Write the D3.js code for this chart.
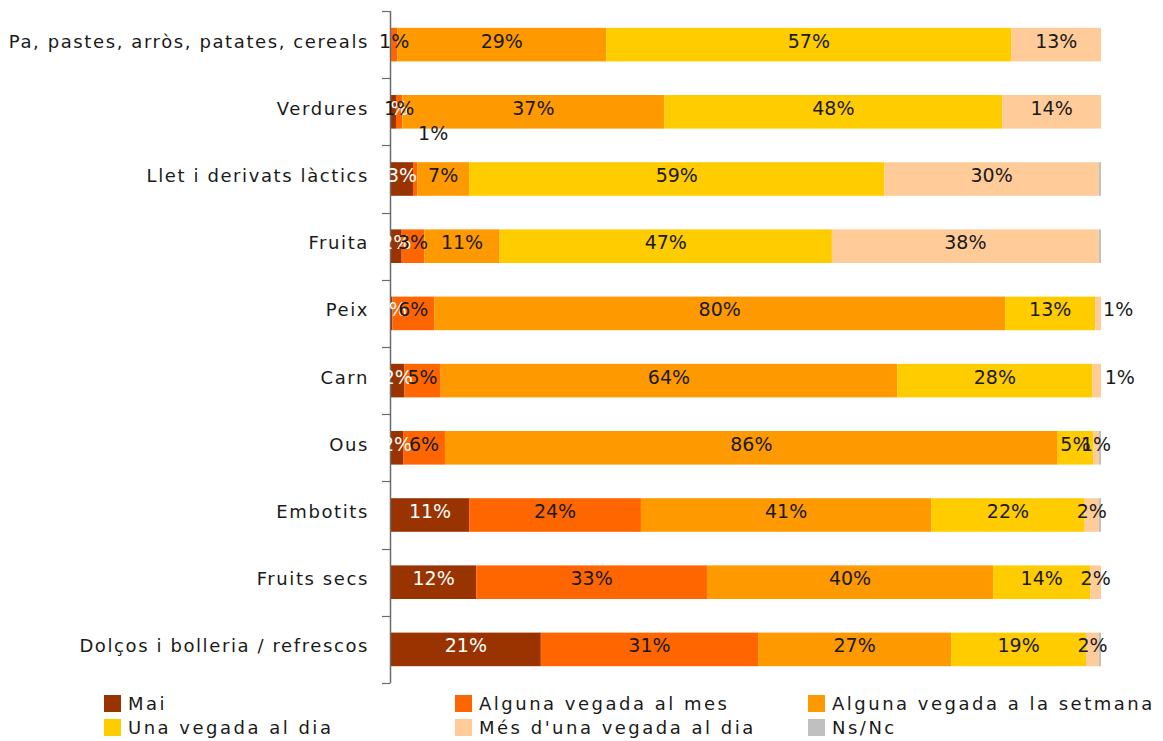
<!DOCTYPE html>
<html>
<head>
<meta charset="utf-8">
<script src="https://cdn.jsdelivr.net/npm/d3@7/dist/d3.min.js"></script>
<style>
  html, body { margin: 0; padding: 0; background: #ffffff; }
  svg { display: block; }
  text { font-family: "DejaVu Sans", sans-serif; fill: #1a1a1a; }
</style>
</head>
<body>
<svg id="chart" width="1163" height="741"></svg>
<script>
// Food categories (top to bottom)
const categories = [
  "Pa, pastes, arròs, patates, cereals",
  "Verdures",
  "Llet i derivats làctics",
  "Fruita",
  "Peix",
  "Carn",
  "Ous",
  "Embotits",
  "Fruits secs",
  "Dolços i bolleria  / refrescos"
];

// Consumption frequency series (legend order)
const seriesNames = [
  "Mai",
  "Alguna vegada al mes",
  "Alguna vegada a la setmana",
  "Una vegada al dia",
  "Més d'una vegada al dia",
  "Ns/Nc"
];

// Percentages per category for each frequency
const mai      = [0,    0.7,  3.1,  1.5,  0.2,  1.9,  1.7, 11.0, 12.0, 21.1];
const alMes    = [0.9,  0.9,  0.6,  3.2,  5.9,  5.1,  5.9, 24.2, 32.5, 30.6];
const setmana  = [29.4, 36.9, 7.3, 10.6, 80.4, 64.3, 86.3, 40.9, 40.3, 27.2];
const alDia    = [57.1, 47.6, 58.5, 46.8, 12.7, 27.5,  5.0, 21.6, 13.7, 19.0];
const mesDUna  = [12.6, 13.9, 30.2, 37.6,  0.8,  1.2,  0.8,  2.0,  1.5,  1.8];
const nsnc     = [0,    0,    0.3,  0.3,  0,    0,    0.3,  0.3,  0,    0.3];

const seriesValues = [mai, alMes, setmana, alDia, mesDUna, nsnc];
const colors = ["#993300", "#FF6600", "#FF9900", "#FFCC00", "#FFCC99", "#C0C0C0"];
const labelColors = ["#ffffff", "#1a1a1a", "#1a1a1a", "#1a1a1a", "#1a1a1a", null];

// Labels that sit away from their segment so they stay readable
const labelNudges = [
  { cat: 2, series: 1, dx: 18, dy: -42 },
  { cat: 4, series: 4, dx: 20, dy: 0 },
  { cat: 5, series: 4, dx: 23, dy: 0 }
];

const svg = d3.select("#chart");

// Build rows for the stack
const rows = categories.map((c, i) => {
  const r = { category: c, index: i };
  seriesNames.forEach((s, j) => { r[s] = seriesValues[j][i]; });
  return r;
});

const stack = d3.stack().keys(seriesNames);
const stacked = stack(rows);

const x = d3.scaleLinear().domain([0, 100]).range([391, 1101]);
const y = d3.scaleBand()
  .domain(categories)
  .range([11, 683])
  .paddingInner(0.5)
  .paddingOuter(0.25);

// Bars
const layers = svg.append("g").selectAll("g")
  .data(stacked)
  .join("g")
  .attr("fill", (d, i) => colors[i]);

layers.selectAll("rect")
  .data(d => d.filter(p => p[1] - p[0] > 0))
  .join("rect")
  .attr("x", p => x(p[0]))
  .attr("width", p => x(p[1]) - x(p[0]))
  .attr("y", p => y(p.data.category))
  .attr("height", y.bandwidth());

// Category axis: vertical line with ticks on band boundaries
const axisG = svg.append("g");
const step = y.step();
const y0 = y.range()[0];
const boundaries = d3.range(categories.length + 1).map(i => y0 + i * step);
axisG.append("line")
  .attr("x1", 390.5).attr("x2", 390.5)
  .attr("y1", y0).attr("y2", y.range()[1])
  .attr("stroke", "#6b6b6b").attr("stroke-width", 1.5);
axisG.selectAll("line.tick")
  .data(boundaries)
  .join("line")
  .attr("class", "tick")
  .attr("x1", 382).attr("x2", 390.5)
  .attr("y1", d => Math.round(d) + 0.5).attr("y2", d => Math.round(d) + 0.5)
  .attr("stroke", "#6b6b6b").attr("stroke-width", 1.2);

axisG.selectAll("text.cat")
  .data(categories)
  .join("text")
  .attr("class", "cat")
  .attr("x", 369)
  .attr("y", d => y(d) + y.bandwidth() / 2 + 3)
  .attr("text-anchor", "end")
  .attr("font-size", 18)
  .attr("letter-spacing", 1.6)
  .text(d => d);

// Data labels
const labelG = svg.append("g");
stacked.forEach((layer, si) => {
  if (!labelColors[si]) return;
  layer.forEach((p, ci) => {
    const v = p[1] - p[0];
    if (v <= 0) return;
    const nudge = labelNudges.find(n => n.cat === ci && n.series === si);
    const dx = nudge ? nudge.dx : 0;
    const dy = nudge ? nudge.dy : 0;
    labelG.append("text")
      .attr("x", (x(p[0]) + x(p[1])) / 2 + dx)
      .attr("y", y(p.data.category) + y.bandwidth() / 2 + 3 + dy)
      .attr("text-anchor", "middle")
      .attr("font-size", 19)
      .style("fill", nudge && nudge.dy !== 0 ? "#1a1a1a" : labelColors[si])
      .text(Math.round(v) + "%");
  });
});

// Legend: three columns, two rows
const legendCols = [104, 455, 808];
const legendRows = [695, 719];
const legend = svg.append("g");
seriesNames.forEach((s, i) => {
  const cx = legendCols[i % 3];
  const cy = legendRows[Math.floor(i / 3)];
  legend.append("rect")
    .attr("x", cx).attr("y", cy)
    .attr("width", 17).attr("height", 17)
    .attr("fill", colors[i]);
  legend.append("text")
    .attr("x", cx + 24)
    .attr("y", cy + 15)
    .attr("font-size", 18)
    .attr("letter-spacing", 2.5)
    .text(s);
});
</script>
</body>
</html>
